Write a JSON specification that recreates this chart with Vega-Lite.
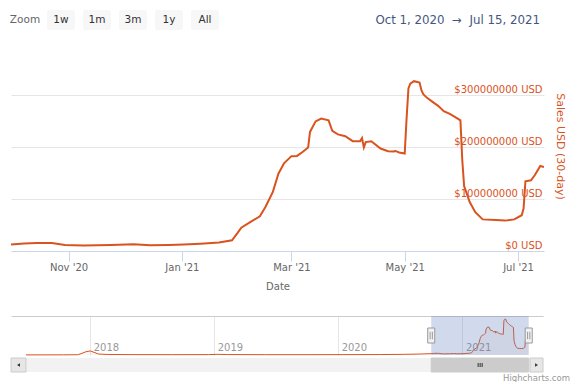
{
  "$schema": "https://vega.github.io/schema/vega-lite/v6.json",
  "padding": {"left": 9, "top": 10, "right": 4, "bottom": 0},
  "config": {
    "view": {"stroke": null},
    "font": "DejaVu Sans",
    "axis": {"labelFont": "DejaVu Sans", "titleFont": "DejaVu Sans"}
  },
  "datasets": {
    "sales": [
      {"date": "2017-06-26", "sales": 1000000},
      {"date": "2017-08-15", "sales": 1200000},
      {"date": "2017-10-15", "sales": 1500000},
      {"date": "2017-11-25", "sales": 2500000},
      {"date": "2017-12-05", "sales": 12000000},
      {"date": "2017-12-20", "sales": 30000000},
      {"date": "2018-01-01", "sales": 37000000},
      {"date": "2018-01-12", "sales": 25000000},
      {"date": "2018-01-25", "sales": 9000000},
      {"date": "2018-02-20", "sales": 5000000},
      {"date": "2018-05-01", "sales": 3500000},
      {"date": "2018-09-01", "sales": 3000000},
      {"date": "2018-12-15", "sales": 3500000},
      {"date": "2019-01-10", "sales": 6000000},
      {"date": "2019-02-10", "sales": 4000000},
      {"date": "2019-06-01", "sales": 3000000},
      {"date": "2019-10-01", "sales": 3000000},
      {"date": "2020-01-15", "sales": 3500000},
      {"date": "2020-05-01", "sales": 4000000},
      {"date": "2020-07-15", "sales": 6000000},
      {"date": "2020-09-01", "sales": 9000000},
      {"date": "2020-10-01", "sales": 12400000},
      {"date": "2020-10-08", "sales": 14500000},
      {"date": "2020-10-15", "sales": 15400000},
      {"date": "2020-10-23", "sales": 15200000},
      {"date": "2020-10-30", "sales": 11800000},
      {"date": "2020-11-09", "sales": 10400000},
      {"date": "2020-11-24", "sales": 11400000},
      {"date": "2020-12-06", "sales": 13000000},
      {"date": "2020-12-15", "sales": 11200000},
      {"date": "2020-12-25", "sales": 11600000},
      {"date": "2021-01-02", "sales": 12400000},
      {"date": "2021-01-11", "sales": 14000000},
      {"date": "2021-01-21", "sales": 16200000},
      {"date": "2021-01-28", "sales": 20700000},
      {"date": "2021-01-31", "sales": 35000000},
      {"date": "2021-02-02", "sales": 45000000},
      {"date": "2021-02-07", "sales": 56000000},
      {"date": "2021-02-12", "sales": 67000000},
      {"date": "2021-02-15", "sales": 85000000},
      {"date": "2021-02-19", "sales": 114000000},
      {"date": "2021-02-22", "sales": 149000000},
      {"date": "2021-02-25", "sales": 169000000},
      {"date": "2021-03-01", "sales": 183000000},
      {"date": "2021-03-04", "sales": 183400000},
      {"date": "2021-03-07", "sales": 191000000},
      {"date": "2021-03-10", "sales": 199600000},
      {"date": "2021-03-11", "sales": 229700000},
      {"date": "2021-03-14", "sales": 250000000},
      {"date": "2021-03-17", "sales": 255600000},
      {"date": "2021-03-21", "sales": 252000000},
      {"date": "2021-03-23", "sales": 231700000},
      {"date": "2021-03-26", "sales": 225000000},
      {"date": "2021-03-30", "sales": 221400000},
      {"date": "2021-04-03", "sales": 211800000},
      {"date": "2021-04-07", "sales": 211800000},
      {"date": "2021-04-08", "sales": 218000000},
      {"date": "2021-04-09", "sales": 199600000},
      {"date": "2021-04-10", "sales": 210000000},
      {"date": "2021-04-13", "sales": 211800000},
      {"date": "2021-04-18", "sales": 197700000},
      {"date": "2021-04-22", "sales": 192500000},
      {"date": "2021-04-25", "sales": 191900000},
      {"date": "2021-04-26", "sales": 193000000},
      {"date": "2021-04-28", "sales": 190000000},
      {"date": "2021-05-01", "sales": 188000000},
      {"date": "2021-05-02", "sales": 255000000},
      {"date": "2021-05-03", "sales": 313600000},
      {"date": "2021-05-04", "sales": 323000000},
      {"date": "2021-05-06", "sales": 327600000},
      {"date": "2021-05-09", "sales": 325000000},
      {"date": "2021-05-10", "sales": 310000000},
      {"date": "2021-05-11", "sales": 302500000},
      {"date": "2021-05-13", "sales": 295400000},
      {"date": "2021-05-16", "sales": 287600000},
      {"date": "2021-05-19", "sales": 279900000},
      {"date": "2021-05-22", "sales": 269700000},
      {"date": "2021-05-25", "sales": 265000000},
      {"date": "2021-05-28", "sales": 258700000},
      {"date": "2021-05-31", "sales": 252000000},
      {"date": "2021-06-01", "sales": 175000000},
      {"date": "2021-06-02", "sales": 125000000},
      {"date": "2021-06-05", "sales": 94500000},
      {"date": "2021-06-08", "sales": 75000000},
      {"date": "2021-06-12", "sales": 61000000},
      {"date": "2021-06-19", "sales": 59800000},
      {"date": "2021-06-24", "sales": 58600000},
      {"date": "2021-06-29", "sales": 61000000},
      {"date": "2021-07-03", "sales": 69000000},
      {"date": "2021-07-04", "sales": 82000000},
      {"date": "2021-07-05", "sales": 134500000},
      {"date": "2021-07-08", "sales": 136400000},
      {"date": "2021-07-10", "sales": 146000000},
      {"date": "2021-07-13", "sales": 164000000},
      {"date": "2021-07-15", "sales": 162000000}
    ],
    "scroll": [
      {"part": "track", "start": "2017-05-13", "end": "2021-08-26"},
      {"part": "thumb", "start": "2020-10-01", "end": "2021-07-15"},
      {"part": "button", "start": "2017-05-13", "end": "2017-06-26"},
      {"part": "button", "start": "2021-07-19", "end": "2021-08-26"}
    ],
    "scrollMarks": [
      {"part": "left", "at": "2017-06-04"},
      {"part": "right", "at": "2021-08-07"},
      {"part": "grip", "at": "2021-02-22"}
    ]
  },
  "title": {"text": "Highcharts.com", "orient": "bottom", "anchor": "end", "fontSize": 8.5, "fontWeight": "normal", "color": "#999999", "offset": 1, "dx": 5},
  "spacing": 25,
  "resolve": {"scale": {"x": "independent", "y": "independent"}},
  "vconcat": [
    {
      "spacing": 10,
      "resolve": {"scale": {"x": "independent", "y": "independent"}},
      "vconcat": [
        {
          "spacing": 0,
          "resolve": {"scale": {"x": "independent", "y": "independent"}},
          "hconcat": [
            {
              "width": 208,
              "height": 20,
              "layer": [
                {
                  "data": {"values": [{"label": "1w"}, {"label": "1m"}, {"label": "3m"}, {"label": "1y"}, {"label": "All"}]},
                  "mark": {"type": "rect", "fill": "#f7f7f7", "cornerRadius": 2},
                  "encoding": {
                    "x": {"field": "label", "type": "nominal", "axis": null,
                      "scale": {"type": "band", "domain": ["Zoom", "1w", "1m", "3m", "1y", "All"], "paddingInner": 0.2222, "paddingOuter": 0, "align": 0}}
                  }
                },
                {
                  "data": {"values": [
                    {"label": "Zoom", "kind": "caption"},
                    {"label": "1w", "kind": "button"},
                    {"label": "1m", "kind": "button"},
                    {"label": "3m", "kind": "button"},
                    {"label": "1y", "kind": "button"},
                    {"label": "All", "kind": "button"}
                  ]},
                  "mark": {"type": "text", "fontSize": 10.5},
                  "encoding": {
                    "x": {"field": "label", "type": "nominal", "axis": null},
                    "text": {"field": "label"},
                    "color": {"field": "kind", "type": "nominal", "legend": null, "scale": {"domain": ["caption", "button"], "range": ["#666666", "#333333"]}}
                  }
                }
              ]
            },
            {
              "width": 325,
              "height": 20,
              "data": {"values": [{"range": "Oct 1, 2020 \u00a0→\u00a0 Jul 15, 2021", "end": "2021-07-15"}]},
              "mark": {"type": "text", "align": "right", "dx": -4, "fontSize": 11.8, "color": "#43567f"},
              "encoding": {
                "x": {"field": "end", "type": "temporal", "axis": null,
                  "scale": {"type": "utc", "domain": [{"year": 2020, "month": 10, "date": 1, "utc": true}, {"year": 2021, "month": 7, "date": 15, "utc": true}]}},
                "text": {"field": "range"}
              }
            }
          ]
        },
        {
          "width": 533,
          "height": 211,
          "data": {"name": "sales"},
          "mark": {"type": "line", "color": "#d9531e", "strokeWidth": 2, "clip": true},
          "encoding": {
            "x": {"field": "date", "type": "temporal",
              "scale": {"type": "utc", "domain": [{"year": 2020, "month": 10, "date": 1, "utc": true}, {"year": 2021, "month": 7, "date": 15, "utc": true}]},
              "axis": {"title": "Date", "format": "%b '%y", "tickCount": {"interval": "month", "step": 2}, "grid": false,
                "domainColor": "#ccd6eb", "tickColor": "#ccd6eb", "tickSize": 10, "labelColor": "#666666", "labelFontSize": 10,
                "labelPadding": 1, "labelFlush": false, "titleColor": "#666666", "titleFontSize": 10, "titleFontWeight": "normal", "titlePadding": 9}},
            "y": {"field": "sales", "type": "quantitative",
              "scale": {"domain": [0, 407000000], "nice": false},
              "axis": {"orient": "right", "title": "Sales USD (30-day)", "values": [0, 100000000, 200000000, 300000000],
                "labelExpr": "'$' + datum.value + ' USD'", "grid": true, "gridColor": "#e6e6e6", "domain": false, "ticks": false,
                "labelAlign": "right", "labelBaseline": "alphabetic", "labelPadding": -2, "labelOffset": -3,
                "labelColor": "#d9531e", "labelFontSize": 10,
                "titleColor": "#d9531e", "titleFontSize": 11, "titleFontWeight": "normal", "titleAngle": 90,
                "titleX": 15, "titleY": 106, "titleBaseline": "middle", "titleAlign": "center"}}
          }
        }
      ]
    },
    {
      "spacing": 0,
      "resolve": {"scale": {"x": "independent", "y": "independent"}},
      "vconcat": [
        {
          "width": 532,
          "height": 39,
          "layer": [
            {
              "data": {"name": "sales"},
              "mark": {"type": "area", "color": "#d9531e", "fillOpacity": 0.05, "line": {"color": "#d9531e", "strokeWidth": 1}},
              "encoding": {
                "x": {"field": "date", "type": "temporal",
                  "scale": {"type": "utc", "domain": [{"year": 2017, "month": 5, "date": 13, "utc": true}, {"year": 2021, "month": 8, "date": 26, "utc": true}]},
                  "axis": {"orient": "top", "title": null, "format": "%Y", "tickCount": {"interval": "year", "step": 1},
                    "grid": true, "gridColor": "#e6e6e6", "domain": true, "domainColor": "#cccccc", "ticks": false,
                    "labelAlign": "left", "labelBaseline": "alphabetic", "labelPadding": -34.4, "labelOffset": 3,
                    "labelColor": "#999999", "labelFontSize": 10, "labelFlush": false}},
                "y": {"field": "sales", "type": "quantitative", "scale": {"domain": [0, 356000000], "nice": false}, "axis": null}
              }
            },
            {
              "data": {"values": [{"from": "2020-10-01", "to": "2021-07-15"}]},
              "mark": {"type": "rect", "fill": "#6685c2", "fillOpacity": 0.3},
              "encoding": {
                "x": {"field": "from", "type": "temporal"},
                "x2": {"field": "to"}
              }
            },
            {
              "data": {"values": [{"edge": "2020-10-01"}, {"edge": "2021-07-15"}]},
              "mark": {"type": "point", "shape": "M-0.47,-1H0.47V1H-0.47Z", "size": 225, "filled": true, "fill": "#f2f2f2", "stroke": "#999999", "strokeWidth": 1, "opacity": 1},
              "encoding": {"x": {"field": "edge", "type": "temporal"}}
            },
            {
              "data": {"values": [{"edge": "2020-10-01"}, {"edge": "2021-07-15"}]},
              "mark": {"type": "point", "shape": "M-0.15,-0.5V0.5M0.15,-0.5V0.5", "size": 225, "filled": false, "stroke": "#999999", "strokeWidth": 1, "opacity": 1},
              "encoding": {"x": {"field": "edge", "type": "temporal"}}
            }
          ]
        },
        {
          "width": 532,
          "height": 14,
          "layer": [
            {
              "data": {"name": "scroll"},
              "transform": [{"filter": "datum.part === 'track'"}],
              "mark": {"type": "rect", "fill": "#f2f2f2"},
              "encoding": {
                "x": {"field": "start", "type": "temporal", "axis": null,
                  "scale": {"type": "utc", "domain": [{"year": 2017, "month": 5, "date": 13, "utc": true}, {"year": 2021, "month": 8, "date": 26, "utc": true}]}},
                "x2": {"field": "end"}
              }
            },
            {
              "data": {"name": "scroll"},
              "transform": [{"filter": "datum.part === 'thumb'"}],
              "mark": {"type": "rect", "fill": "#cccccc", "stroke": "#cccccc", "strokeWidth": 1},
              "encoding": {"x": {"field": "start", "type": "temporal"}, "x2": {"field": "end"}}
            },
            {
              "data": {"name": "scroll"},
              "transform": [{"filter": "datum.part === 'button'"}],
              "mark": {"type": "rect", "fill": "#e6e6e6", "stroke": "#cccccc", "strokeWidth": 1},
              "encoding": {"x": {"field": "start", "type": "temporal"}, "x2": {"field": "end"}}
            },
            {
              "data": {"name": "scrollMarks"},
              "transform": [{"filter": "datum.part !== 'grip'"}],
              "mark": {"type": "point", "filled": true, "size": 12, "color": "#333333", "opacity": 1},
              "encoding": {
                "x": {"field": "at", "type": "temporal"},
                "shape": {"field": "part", "type": "nominal", "legend": null, "scale": {"domain": ["left", "right"], "range": ["triangle-left", "triangle-right"]}}
              }
            },
            {
              "data": {"name": "scrollMarks"},
              "transform": [{"filter": "datum.part === 'grip'"}],
              "mark": {"type": "point", "filled": false, "shape": "M-1,-1V1M0,-1V1M1,-1V1", "size": 16, "stroke": "#333333", "strokeWidth": 1, "opacity": 1},
              "encoding": {"x": {"field": "at", "type": "temporal"}}
            }
          ]
        }
      ]
    }
  ]
}
